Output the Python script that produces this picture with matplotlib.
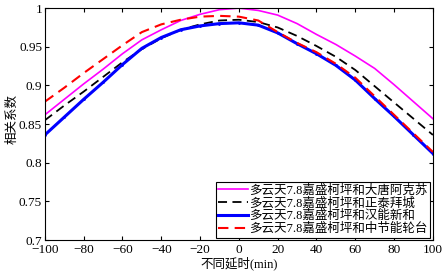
import matplotlib
matplotlib.use('Agg')
from matplotlib import pyplot as plt

# delay in minutes
delay = [-100, -90, -80, -70, -60, -50, -40, -30, -20, -10, 0,
         10, 20, 30, 40, 50, 60, 70, 80, 90, 100]

datang_akesu = [0.862, 0.882, 0.902, 0.921, 0.941, 0.959, 0.972, 0.984, 0.992, 0.998, 1.000,
                0.997, 0.991, 0.980, 0.966, 0.953, 0.938, 0.922, 0.901, 0.879, 0.857]
zhengtai_baicheng = [0.855, 0.874, 0.892, 0.911, 0.930, 0.947, 0.961, 0.972, 0.979, 0.984, 0.985,
                     0.982, 0.975, 0.964, 0.951, 0.937, 0.920, 0.899, 0.878, 0.857, 0.836]
hanneng_xinhe = [0.836, 0.859, 0.882, 0.904, 0.927, 0.948, 0.962, 0.972, 0.977, 0.980, 0.981,
                 0.978, 0.968, 0.954, 0.941, 0.926, 0.907, 0.883, 0.860, 0.836, 0.812]
zhongjie_luntai = [0.879, 0.897, 0.916, 0.934, 0.952, 0.969, 0.979, 0.985, 0.989, 0.990, 0.989,
                   0.984, 0.969, 0.955, 0.943, 0.928, 0.910, 0.886, 0.862, 0.838, 0.814]

labels = ['多云天7.8嘉盛柯坪和大唐阿克苏',
          '多云天7.8嘉盛柯坪和正泰拜城',
          '多云天7.8嘉盛柯坪和汉能新和',
          '多云天7.8嘉盛柯坪和中节能轮台']

fonts = ['Liberation Serif', 'Noto Sans CJK SC']
plt.rcParams['font.family'] = fonts

fig = plt.figure(figsize=(4.44, 2.71), dpi=100)
ax = fig.add_axes([0.101, 0.114, 0.874, 0.856])

ax.plot(delay, datang_akesu, color='#ff00ff', lw=1.2, label=labels[0])
ax.plot(delay, zhengtai_baicheng, color='black', lw=1.3, ls=(0, (5, 3)), label=labels[1])
ax.plot(delay, hanneng_xinhe, color='#0000ff', lw=2.2, marker='.', ms=2, label=labels[2])
ax.plot(delay, zhongjie_luntai, color='#ff0000', lw=1.5, ls=(0, (5, 3)), label=labels[3])

ax.set_xlim(-100, 100)
ax.set_ylim(0.7, 1.0)
ax.set_xticks(range(-100, 101, 20))
ax.set_yticks([0.7, 0.75, 0.8, 0.85, 0.9, 0.95, 1.0])
ax.set_yticklabels(['0.7', '0.75', '0.8', '0.85', '0.9', '0.95', '1'])
ax.tick_params(direction='in', top=True, right=True, labelsize=9.5, length=3)
ax.tick_params(axis='x', pad=3)
ax.tick_params(axis='y', pad=2)
for s in ax.spines.values():
    s.set_linewidth(0.8)

ax.set_xlabel('不同延时(min)', fontsize=9, labelpad=0.5)
ax.set_ylabel('相关系数', fontsize=9)
ax.yaxis.set_label_coords(-0.068, 0.52)

leg = ax.legend(loc='lower right', fontsize=9, fancybox=False, edgecolor='black',
                framealpha=1, labelspacing=0.05, borderpad=0.2, handlelength=2.4,
                handletextpad=0.1, borderaxespad=0.2)
leg.get_frame().set_linewidth(0.8)

plt.savefig('out.png', dpi=100)
